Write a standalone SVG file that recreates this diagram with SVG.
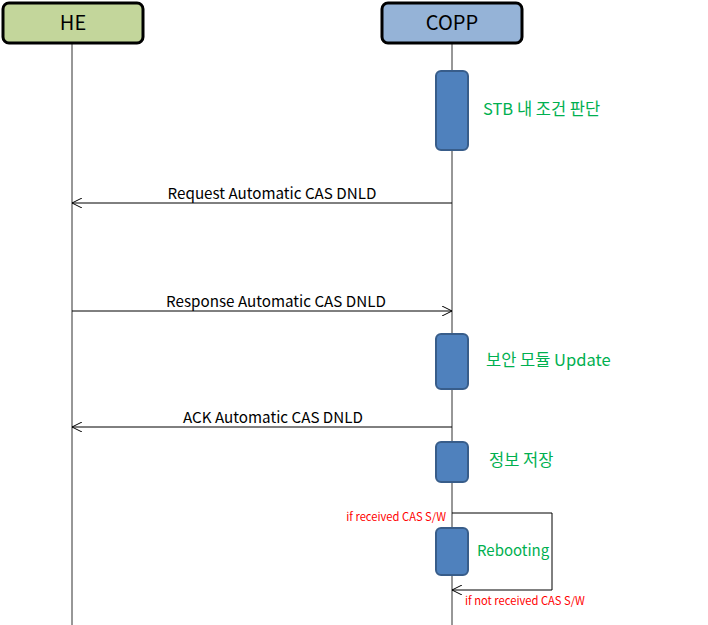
<svg xmlns="http://www.w3.org/2000/svg" width="708" height="625" viewBox="0 0 708 625">
<style>
.hdr{stroke:#000;stroke-width:3}
.life{stroke:#303030;stroke-width:1;fill:none}
.act{fill:#4F81BD;stroke:#385D8A;stroke-width:2}
.msg{stroke:#000;stroke-width:1;fill:none}
.t{font-family:"Noto Sans CJK KR","Noto Sans",sans-serif}
.lbl{font-size:15.2px;fill:#000;text-anchor:middle}
.grn{font-size:16.5px;fill:#00B050}
.red{font-size:11.2px;fill:#FF0000}
</style>
<defs>
<marker id="open" viewBox="0 0 10 10" refX="10" refY="5" markerWidth="10" markerHeight="10" markerUnits="userSpaceOnUse" orient="auto">
<path d="M0,0 L10,5 L0,10" fill="none" stroke="#000" stroke-width="1"/>
</marker>
</defs>
<rect width="708" height="625" fill="#fff"/>
<g id="lifelines">
<line class="life" x1="72" y1="43" x2="72" y2="625"/>
<line class="life" x1="452" y1="43" x2="452" y2="625"/>
</g>
<g id="HE">
<rect class="hdr" x="3" y="3" width="140" height="40" rx="6" fill="#C3D69B"/>
<text class="t" x="73" y="30" font-size="20" text-anchor="middle">HE</text>
</g>
<g id="COPP">
<rect class="hdr" x="382" y="3" width="140" height="40" rx="6" fill="#95B3D7"/>
<text class="t" x="452" y="30" font-size="20" text-anchor="middle">COPP</text>
</g>
<g id="act1">
<rect class="act" x="436" y="71" width="32" height="79" rx="5"/>
<text class="t grn" x="483" y="115">STB 내 조건 판단</text>
</g>
<g id="act2">
<rect class="act" x="436" y="334" width="32" height="55" rx="5"/>
<text class="t grn" x="486" y="366">보안 모듈 Update</text>
</g>
<g id="act3">
<rect class="act" x="436" y="442" width="32" height="40" rx="5"/>
<text class="t grn" x="489" y="466">정보 저장</text>
</g>
<g id="act4">
<rect class="act" x="436" y="528" width="32" height="47" rx="5"/>
<text class="t grn" x="477" y="556" style="font-size:15px">Rebooting</text>
</g>
<g id="connectors">
<line class="msg" x1="452" y1="203" x2="72" y2="203" marker-end="url(#open)"/>
<text class="t lbl" x="272" y="199">Request Automatic CAS DNLD</text>
<line class="msg" x1="72" y1="311" x2="452" y2="311" marker-end="url(#open)"/>
<text class="t lbl" x="276" y="307">Response Automatic CAS DNLD</text>
<line class="msg" x1="452" y1="427" x2="72" y2="427" marker-end="url(#open)"/>
<text class="t lbl" x="273" y="423">ACK Automatic CAS DNLD</text>
<polyline class="msg" points="452,513 552,513 552,590 452,590" marker-end="url(#open)"/>
<text class="t red" x="446" y="521" text-anchor="end">if received CAS S/W</text>
<text class="t red" x="465" y="605">if not received CAS S/W</text>
</g>
</svg>
